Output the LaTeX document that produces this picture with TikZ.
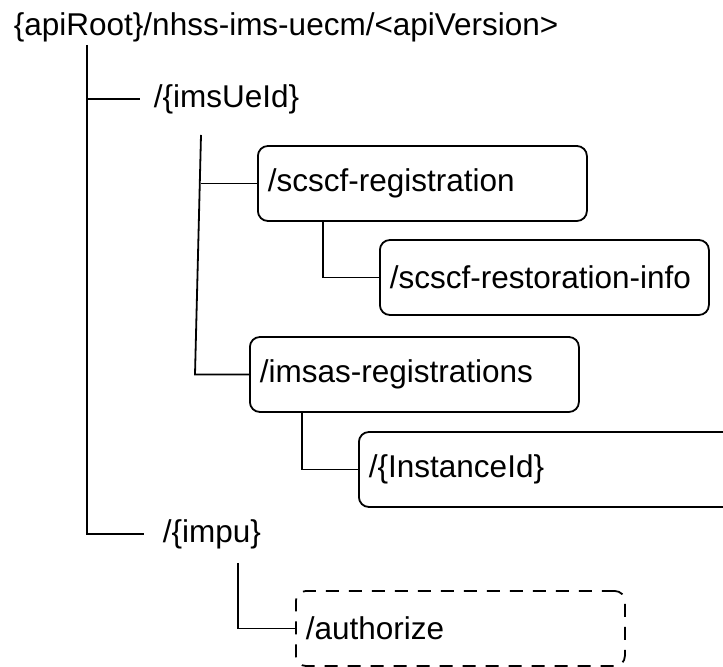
\documentclass[tikz,border=0pt]{standalone}
\usepackage{fontspec}
\setmainfont{Liberation Sans}

\begin{document}
\begin{tikzpicture}[x=0.5pt,y=-0.5pt,line width=0.9pt,
    font=\fontsize{15.75}{19}\selectfont,
    res/.style={draw,rounded corners=5pt,anchor=west,minimum height=37.5pt,
      inner xsep=5pt,text width=154.5pt,align=left},
    resopt/.style={res,dashed,dash pattern=on 6.5pt off 5pt},
    lbl/.style={anchor=west,inner ysep=0pt}]
  \clip (0,0) rectangle (723,667);
  % plain path labels
  \node[lbl,inner xsep=0pt] (root) at (13,27) {\{apiRoot\}/nhss-ims-uecm/<apiVersion>};
  \node[lbl,inner xsep=6.5pt] (ue) at (140,99) {/\{imsUeId\}};
  \node[lbl,inner xsep=9pt] (impu) at (144,534) {/\{impu\}};
  % resources
  \node[res] (scscf) at (257,183.5) {/scscf-registration};
  \node[res] (restore) at (379,277.5) {/scscf-restoration-info};
  \node[res] (imsas) at (249,374.5) {/imsas-registrations};
  \node[res,text width=250pt] (inst) at (358,469.5) {/\{InstanceId\}};
  \node[resopt] (auth) at (295,628.5) {/authorize};
  % tree lines
  \coordinate (trunk) at (87,45);
  \coordinate (ueleg) at (201,135);
  \coordinate (uefoot) at (195,374.5);
  \coordinate (impuleg) at (238,563);
  \draw (trunk) |- (impu.west);
  \draw (trunk |- ue.west) -- (ue.west);
  \draw (ueleg) -- (uefoot) -- (imsas.west);
  \draw (ueleg |- scscf.west) -- (scscf.west);
  \draw ([xshift=33pt]scscf.south west) |- (restore.west);
  \draw ([xshift=26.5pt]imsas.south west) |- (inst.west);
  \draw (impuleg) |- (auth.west);
\end{tikzpicture}
\end{document}
